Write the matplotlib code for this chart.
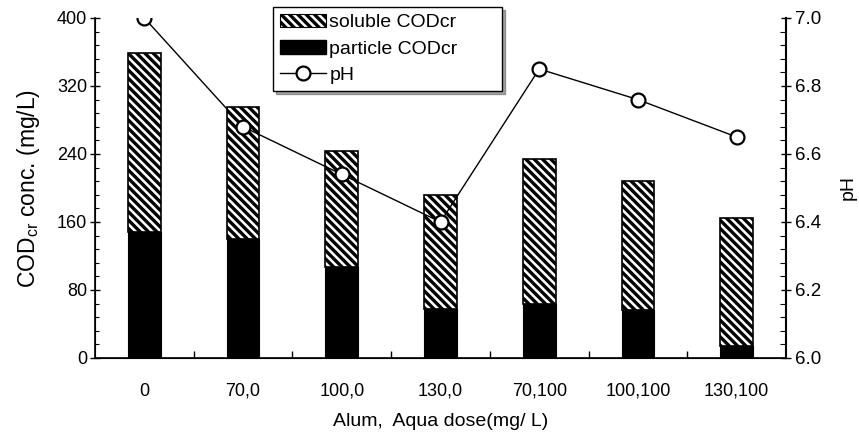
import matplotlib
matplotlib.use("Agg")
import matplotlib.pyplot as plt
from matplotlib.patches import Patch
from matplotlib.lines import Line2D
import numpy as np

categories = ["0", "70,0", "100,0", "130,0", "70,100", "100,100", "130,100"]
total_cod = [359, 295, 244, 192, 234, 208, 165]
particle_cod = [148, 140, 107, 58, 63, 57, 14]
soluble_cod = [t - p for t, p in zip(total_cod, particle_cod)]
ph_values = [7.00, 6.68, 6.54, 6.40, 6.85, 6.76, 6.65]

plt.rcParams['font.family'] = ['Liberation Sans', 'DejaVu Sans']
plt.rcParams['mathtext.fontset'] = 'custom'
plt.rcParams['mathtext.rm'] = 'Liberation Sans'
plt.rcParams['hatch.linewidth'] = 2.4
plt.rcParams['hatch.color'] = 'black'

fig = plt.figure(figsize=(8.59, 4.33), dpi=100)
ax = fig.add_axes([95/859, 1-358/433, (786-95)/859, (358-18)/433])
x = np.arange(len(categories))
w = 0.33
ax.bar(x, particle_cod, w, color='black', edgecolor='black', linewidth=0.8, zorder=2)
ax.bar(x, soluble_cod, w, bottom=particle_cod, color='white', edgecolor='black',
       hatch='\\\\\\\\', linewidth=1.2, zorder=2)
ax.set_xlim(-0.5, 6.5)
ax.set_ylim(0, 400)
ax.set_yticks([0, 80, 160, 240, 320, 400])
ax.set_yticks(np.arange(0, 401, 16), minor=True)
ax.set_xticks(x)
ax.set_xticklabels(categories, fontsize=13)
ax.set_xticks(np.arange(0.5, 6, 1), minor=True)
ax.tick_params(axis='x', which='major', length=0, pad=18)
ax.tick_params(axis='x', which='minor', direction='in', length=5, width=1)
ax.tick_params(axis='y', which='major', direction='inout', length=7, width=1, labelsize=13, pad=2)
ax.tick_params(axis='y', which='minor', direction='in', length=3, width=0.8)
ax.spines['top'].set_visible(False)
for s in ['left', 'bottom', 'right']:
    ax.spines[s].set_linewidth(1.2)
ax.set_xlabel("Alum,  Aqua dose(mg/ L)", fontsize=14, labelpad=9)
ax.set_ylabel(r"COD$_{\rm cr}$ conc. (mg/L)", fontsize=16.5, labelpad=11)

ax2 = ax.twinx()
ax2.plot(x, ph_values, color='black', linewidth=1, marker='o', markersize=10,
         markerfacecolor='white', markeredgecolor='black', markeredgewidth=1.6, zorder=5)
ax2.set_ylim(6.0, 7.0)
ax2.set_yticks([6.0, 6.2, 6.4, 6.6, 6.8, 7.0])
ax2.set_yticklabels(["6.0", "6.2", "6.4", "6.6", "6.8", "7.0"])
ax2.set_yticks(np.arange(6.0, 7.001, 0.04), minor=True)
ax2.tick_params(axis='y', which='major', direction='inout', length=7, width=1, labelsize=13.5, pad=3)
ax2.tick_params(axis='y', which='minor', direction='in', length=4, width=0.8)
ax2.spines['top'].set_visible(False)
ax2.spines['right'].set_linewidth(1.5)
ax2.set_ylabel("pH", fontsize=14, labelpad=13)

handles = [
    Patch(facecolor='white', edgecolor='black', hatch='\\\\\\\\', linewidth=0.8),
    Patch(facecolor='black', edgecolor='black'),
    Line2D([0], [0], color='black', linewidth=1, marker='o', markersize=10,
           markerfacecolor='white', markeredgecolor='black', markeredgewidth=1.6),
]
labels = ["soluble CODcr", "particle CODcr", "pH"]
leg = fig.legend(handles, labels, loc='upper left',
                 bbox_to_anchor=(273/859, 1-97/433, 229/859, 90/433), mode='expand',
                 fontsize=14, frameon=True, fancybox=False, shadow=True, edgecolor='black',
                 handlelength=2.4, handletextpad=0.15, borderpad=0.35, labelspacing=0.45,
                 borderaxespad=0)
leg.get_frame().set_linewidth(1.0)

fig.savefig("out.png", dpi=100)
